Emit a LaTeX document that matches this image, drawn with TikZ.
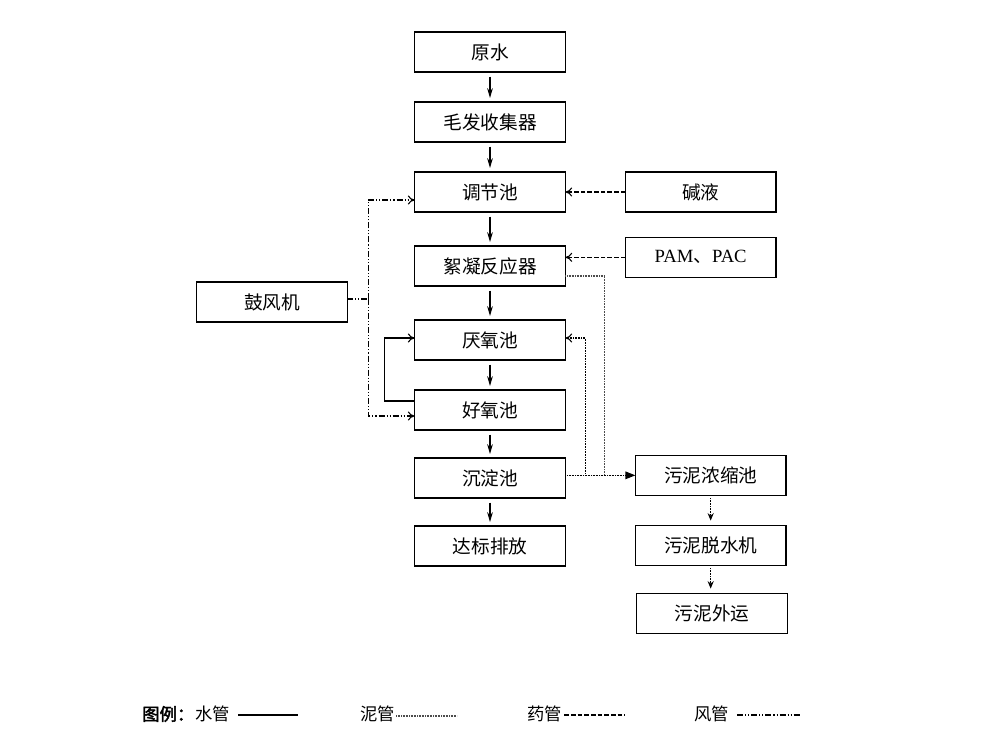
\documentclass[tikz,border=0pt]{standalone}
\usepackage{fontspec}
\setmainfont{Liberation Serif}
\newfontfamily\cjk[AutoFakeBold=2.5]{Noto Sans CJK SC}
\usetikzlibrary{positioning, arrows.meta, calc}

\begin{document}
\begin{tikzpicture}[
        x=0.75pt, y=-0.75pt,
        box/.style={rectangle, draw, line width=0.8pt, minimum width=113pt, minimum height=30pt, inner sep=0pt, outer sep=0pt, font=\cjk\fontsize{14}{16}\selectfont},
        lgd/.style={font=\cjk\fontsize{13}{15}\selectfont, inner sep=0pt},
        water/.style={-{Stealth[length=2.6mm, width=1.5mm]}, line width=0.8pt},
        ret/.style={-{To[length=1.8mm, width=2.4mm]}, line width=0.8pt},
        air/.style={-{To[length=1.8mm, width=2.4mm]}, line width=0.8pt, dash pattern=on 4.5pt off 1.5pt on 0.8pt off 1.5pt on 0.8pt off 1.5pt},
        drug/.style={-{To[length=1.8mm, width=2.4mm]}, line width=0.8pt, dash pattern=on 3.5pt off 1.5pt},
        sludge/.style={line width=0.8pt, black!70, dash pattern=on 0.6pt off 0.6pt}
    ]
        \useasboundingbox (0,0) rectangle (992,750);

        % main water line
        \node[box] (yuanshui) at (490,52) {原水};
        \node[box, below=22.5pt of yuanshui] (maofa) {毛发收集器};
        \node[box, below=22.5pt of maofa] (tiaojie) {调节池};
        \node[box, below=25.5pt of tiaojie] (xuning) {絮凝反应器};
        \node[box, below=25.5pt of xuning] (yanyang) {厌氧池};
        \node[box, below=22.5pt of yanyang] (haoyang) {好氧池};
        \node[box, below=21pt of haoyang] (chendian) {沉淀池};
        \node[box, below=21pt of chendian] (dabiao) {达标排放};

        % dosing and air
        \node[box, right=45pt of tiaojie] (jianye) {碱液};
        \node[box, right=45pt of xuning, yshift=6.5pt] (pam) {\rmfamily PAM{\cjk 、}PAC};
        \node[box] (gufeng) at (272,302) {鼓风机};

        % sludge line
        \node[box, right=52.5pt of chendian, yshift=2pt] (nongsuo) {污泥浓缩池};
        \node[box, below=22.5pt of nongsuo] (tuoshui) {污泥脱水机};
        \node[box, below=21pt of tuoshui, xshift=1pt] (waiyun) {污泥外运};

        % Arrows: water
        \foreach \a/\b in {yuanshui/maofa, maofa/tiaojie, tiaojie/xuning, xuning/yanyang, yanyang/haoyang, haoyang/chendian, chendian/dabiao}
            \draw[water, shorten <=3.5pt, shorten >=3pt] (\a) -- (\b);
        \draw[ret] ($(haoyang.west)+(0,-9)$) -- ++(-30,0) |- ($(yanyang.west)+(0,-2)$);

        % Arrows: dosing
        \draw[drug] (jianye.west) -- (tiaojie.east |- jianye.west);
        \draw[drug] (pam.west) -- (xuning.east |- pam.west);

        % Arrows: air
        \coordinate (airbus) at ($(gufeng.east)+(21,-3)$);
        \draw[air, -] ($(gufeng.east)+(0,-3)$) -- (airbus);
        \draw[air] (airbus) |- ($(tiaojie.west)+(0,8)$);
        \draw[air] (airbus) |- ($(haoyang.west)+(0,6)$);

        % Arrows: sludge
        \draw[sludge, -{Triangle[length=2.6mm, width=2mm]}, black] (chendian.east |- nongsuo.west) -- (nongsuo.west);
        \draw[sludge] ($(xuning.east)+(0,10)$) -| ($(nongsuo.west)+(-31,0)$);
        \draw[sludge, -{To[length=1.8mm, width=2.4mm]}, black] ($(nongsuo.west)+(-50,0)$) |- ($(yanyang.east)+(0,-2)$);
        \draw[sludge, -{Stealth[length=2mm, width=1.6mm]}, black, shorten <=2pt, shorten >=3.5pt] (nongsuo) -- (tuoshui);
        \draw[sludge, -{Stealth[length=2mm, width=1.6mm]}, black, shorten <=2pt, shorten >=3.5pt] (tuoshui.south) -- (tuoshui.south |- waiyun.north);

        % Legend
        \node[lgd, anchor=west, font=\cjk\fontsize{13}{15}\selectfont\bfseries] (tuli) at (142,714) {图例：};
        \node[lgd, anchor=west] (shuiguan) at (195,714) {水管};
        \node[lgd, anchor=west] (niguan) at (360,714) {泥管};
        \node[lgd, anchor=west] (yaoguan) at (527,714) {药管};
        \node[lgd, anchor=west] (fengguan) at (694,714) {风管};
        \coordinate (shuiend) at (298,715);
        \coordinate (niend) at (457,716);
        \coordinate (yaoend) at (625,715);
        \coordinate (fengend) at (800,715);
        \draw[line width=0.8pt] ($(shuiguan.east |- shuiend)+(8,0)$) -- (shuiend);
        \draw[sludge] ($(niguan.east |- niend)+(1,0)$) -- (niend);
        \draw[drug, -] ($(yaoguan.east |- yaoend)+(2,0)$) -- (yaoend);
        \draw[air, -] ($(fengguan.east |- fengend)+(8,0)$) -- (fengend);
    \end{tikzpicture}
\end{document}
